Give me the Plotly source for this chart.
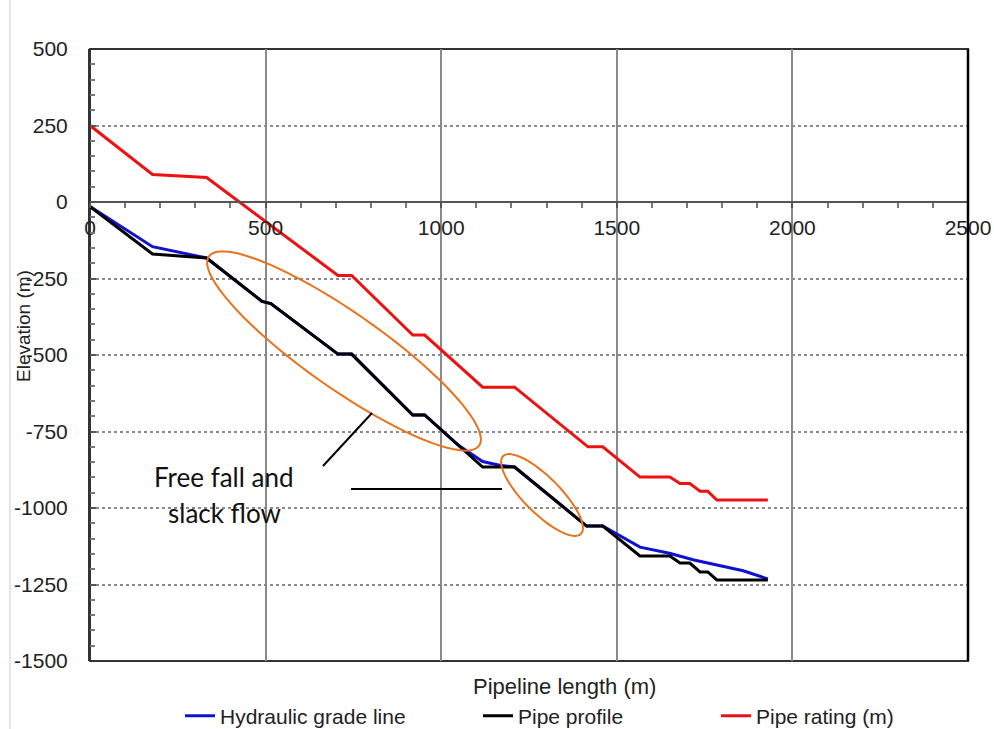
import numpy as np
import plotly.graph_objects as go

# ---------------- data ----------------
x_hgl = [0, 178, 332, 490, 515, 706, 745, 919, 953, 1050, 1118, 1166, 1209, 1414, 1460, 1566, 1650, 1720, 1860, 1930]
hgl = [-15, -146, -183, -325, -332, -497, -497, -696, -696, -796, -848, -860, -866, -1059, -1059, -1128, -1148, -1170, -1205, -1232]

x_profile = [0, 178, 332, 490, 515, 706, 745, 919, 953, 1118, 1209, 1414, 1460, 1566, 1651, 1680, 1708, 1737, 1759, 1785, 1930]
pipe_profile = [-15, -170, -183, -325, -332, -497, -497, -696, -696, -866, -866, -1059, -1059, -1157, -1157, -1180, -1180, -1209, -1209, -1235, -1235]

x_rating = [0, 178, 332, 706, 745, 919, 953, 1118, 1209, 1418, 1460, 1566, 1651, 1680, 1708, 1737, 1759, 1785, 1930]
pipe_rating = [250, 90, 80, -240, -240, -435, -435, -605, -605, -800, -800, -899, -899, -920, -920, -945, -945, -974, -974]

series_names = ["Hydraulic grade line", "Pipe profile", "Pipe rating (m)"]
x_ticks = [0, 500, 1000, 1500, 2000, 2500]
y_ticks = [500, 250, 0, -250, -500, -750, -1000, -1250, -1500]

# ---------------- layout constants ----------------
W, H = 994, 729
ML, MR, MT, MB = 90, 26, 49, 68
PW, PH = W - ML - MR, H - MT - MB
XR = (0, 2500)
YR = (-1500, 500)


def px2x(px):
    return XR[0] + (px - ML) / PW * (XR[1] - XR[0])


def py2y(py):
    return YR[0] + (H - MB - py) / PH * (YR[1] - YR[0])


def px2paper(px):
    return (px - ML) / PW


def py2paper(py):
    return (H - MB - py) / PH


def ellipse_path(cx, cy, a, b, ang):
    t = np.linspace(0, 2 * np.pi, 80)
    c, s = np.cos(np.radians(ang)), np.sin(np.radians(ang))
    xs = cx + a * np.cos(t) * c - b * np.sin(t) * s
    ys = cy + a * np.cos(t) * s + b * np.sin(t) * c
    pts = [f"{px2x(x):.2f},{py2y(y):.2f}" for x, y in zip(xs, ys)]
    return "M" + " L".join(pts) + " Z"


FONT = "Liberation Sans, Arial, sans-serif"
fig = go.Figure()
fig.add_trace(go.Scatter(x=x_hgl, y=hgl, mode="lines", name=series_names[0],
                         line=dict(color="#1010d0", width=3), legend="legend", showlegend=True))
fig.add_trace(go.Scatter(x=x_profile, y=pipe_profile, mode="lines", name=series_names[1],
                         line=dict(color="#000000", width=3), legend="legend2", showlegend=True))
fig.add_trace(go.Scatter(x=x_rating, y=pipe_rating, mode="lines", name=series_names[2],
                         line=dict(color="#ee1111", width=3), legend="legend3", showlegend=True))

legend_common = dict(orientation="h", yanchor="middle", xanchor="left",
                     xref="container", yref="container",
                     font=dict(family=FONT, size=21, color="#222"),
                     bgcolor="rgba(0,0,0,0)", itemwidth=30, borderwidth=0)
ly = (H - 716) / H
fig.update_layout(
    showlegend=True,
    legend=dict(x=(180) / W, y=ly, **legend_common),
    legend2=dict(x=(485 - 7) / W, y=ly, **legend_common),
    legend3=dict(x=(720 - 4) / W, y=ly, **legend_common),
)

shapes = []
# outer frame of plot area
shapes.append(dict(type="rect", xref="paper", yref="paper", x0=0, x1=1, y0=0, y1=1,
                   line=dict(color="#333", width=2), layer="below"))
shapes.append(dict(type="line", xref="paper", yref="paper", x0=1, x1=1, y0=0, y1=1,
                   line=dict(color="#000", width=2.5)))
# faint page edge at left
shapes.append(dict(type="line", xref="paper", yref="paper", x0=px2paper(10), x1=px2paper(10),
                   y0=py2paper(0), y1=py2paper(H), line=dict(color="#e6e6e6", width=2)))
# ellipses
ORANGE = "#e8731c"
shapes.append(dict(type="path", xref="x", yref="y", path=ellipse_path(344, 351, 165, 38, 35),
                   line=dict(color=ORANGE, width=2)))
shapes.append(dict(type="path", xref="x", yref="y", path=ellipse_path(542, 495, 55, 18, 45),
                   line=dict(color=ORANGE, width=2)))
# pointer lines
shapes.append(dict(type="line", xref="x", yref="y", x0=px2x(323), y0=py2y(466), x1=px2x(372), y1=py2y(413),
                   line=dict(color="#000", width=2)))
shapes.append(dict(type="line", xref="x", yref="y", x0=px2x(351), y0=py2y(489), x1=px2x(502), y1=py2y(489),
                   line=dict(color="#000", width=2)))

annotations = [
    dict(text="Free fall and", x=px2paper(224), y=py2paper(477), xref="paper", yref="paper",
         showarrow=False, font=dict(family="Lato, sans-serif", size=26, color="#111"),
         xanchor="center", yanchor="middle"),
    dict(text="slack flow", x=px2paper(224), y=py2paper(513), xref="paper", yref="paper",
         showarrow=False, font=dict(family="Lato, sans-serif", size=26, color="#111"),
         xanchor="center", yanchor="middle"),
    dict(text="Pipeline length (m)", x=px2paper(564), y=py2paper(686), xref="paper", yref="paper",
         showarrow=False, font=dict(family=FONT, size=22, color="#222"),
         xanchor="center", yanchor="middle"),
    dict(text="Elevation (m)", x=px2paper(24), y=py2paper(326), xref="paper", yref="paper",
         showarrow=False, textangle=-90, font=dict(family=FONT, size=19, color="#222"),
         xanchor="center", yanchor="middle"),
]

fig.update_layout(
    width=W, height=H,
    margin=dict(l=ML, r=MR, t=MT, b=MB, pad=0, autoexpand=False),
    paper_bgcolor="white", plot_bgcolor="white",
    shapes=shapes, annotations=annotations,
    xaxis=dict(range=list(XR), tickvals=x_ticks, ticktext=[str(v) for v in x_ticks],
               anchor="free", position=(0 - YR[0]) / (YR[1] - YR[0]), automargin=False,
               showline=True, linecolor="#555", linewidth=1.5,
               ticks="outside", ticklen=5, tickcolor="#555", tickwidth=1.5,
               minor=dict(dtick=100, ticks="outside", ticklen=5, tickcolor="#777", showgrid=False),
               showgrid=True, gridcolor="#8a8a8a", gridwidth=1.5,
               zeroline=False, ticklabelstandoff=2,
               tickfont=dict(family=FONT, size=21, color="#222")),
    yaxis=dict(range=list(YR), tickvals=y_ticks, ticktext=[str(v) for v in y_ticks],
               automargin=False,
               showline=True, linecolor="#333", linewidth=2,
               ticks="inside", ticklen=6, tickcolor="#555", tickwidth=1.5,
               minor=dict(dtick=50, ticks="inside", ticklen=5, tickcolor="#777", showgrid=False),
               showgrid=True, gridcolor="#8a8a8a", gridwidth=1.5, griddash="3px,3px",
               zeroline=False, ticklabelstandoff=16,
               tickfont=dict(family=FONT, size=21, color="#222")),
)

fig.write_html("out.html", config={"displayModeBar": False},
               post_script="document.body.style.margin='0px';document.body.style.overflow='hidden';")
